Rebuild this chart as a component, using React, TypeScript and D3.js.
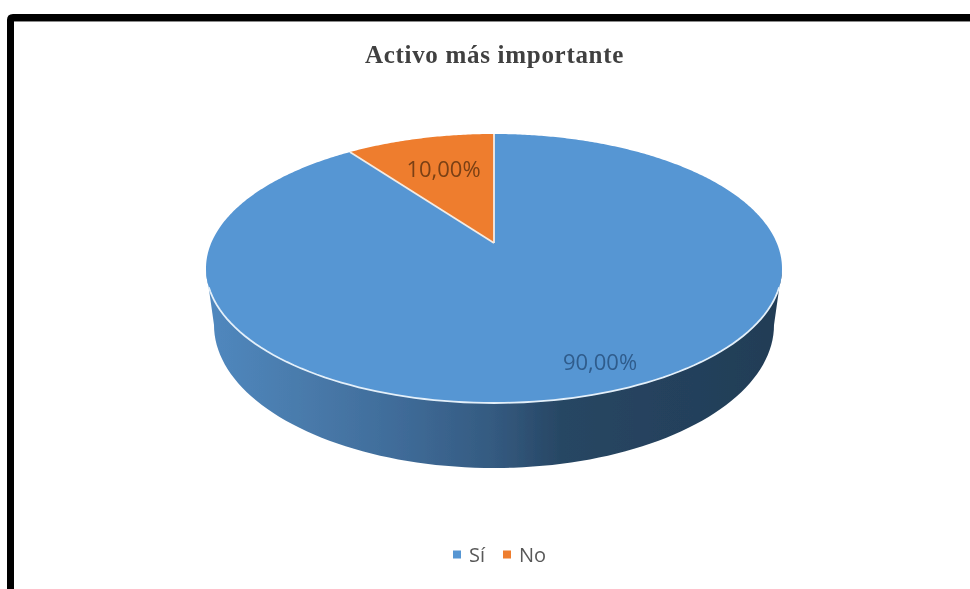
import React from 'react';
import * as d3 from 'd3';

const categories = ['Sí', 'No'];
const values = [90, 10];
const valueLabels = ['90,00%', '10,00%'];
const colors = ['#5796d3', '#ee7d2f'];
const labelColors = ['#2f5c8c', '#7a4013'];
const title = 'Activo más importante';

const width = 970;
const height = 589;

// top of the pie is tilted, so the slice point sits above the ellipse middle
const cx = 494;
const rimRy = 134.5;
const rimCy = 268.5;
const apexY = 243;
const tilt = (2 * apexY - (rimCy - rimRy) - (rimCy + rimRy)) / (rimCy + rimRy - (rimCy - rimRy));
const scaleY = apexY - (rimCy - rimRy) + (rimCy - rimRy) * tilt;
const scaleX = 288 * Math.sqrt(1 - tilt * tilt);

const project = (angle: number, r = 1): [number, number] => {
  const u = r * Math.sin(angle);
  const v = -r * Math.cos(angle);
  const d = 1 + tilt * v;
  return [cx + (scaleX * u) / d, (scaleY * v + apexY) / d];
};

const line = d3.line();

const slicePath = (start: number, end: number) => {
  const steps = Math.ceil((end - start) / 0.01);
  const rim = d3.range(steps + 1).map(i => project(start + ((end - start) * i) / steps));
  return `${line([project(0, 0), ...rim])}Z`;
};

// lower half of a plain ellipse, left to right
const lowerHalf = (ex: number, ey: number, rx: number, ry: number, from = 0) =>
  d3.range(from, 181 - from, 2).map((deg): [number, number] => {
    const a = Math.PI - (deg * Math.PI) / 180;
    return [ex + rx * Math.cos(a), ey + ry * Math.sin(a)];
  });

const App: React.FC = () => {
  const arcs = d3.pie<number>().sort(null)(values);
  const rimFront = lowerHalf(cx, rimCy, 288, rimRy);
  const rimHighlight = lowerHalf(cx, rimCy, 288, rimRy, 8);
  const baseFront = lowerHalf(cx, 325, 280, 143);
  const wall = `${line([...rimFront, ...[...baseFront].reverse()])}Z`;

  return (
    <svg
      width={width}
      height={height}
      style={{ position: 'absolute', left: 0, top: 0, background: '#fff' }}
    >
      <defs>
        <linearGradient id="wallFill" gradientUnits="userSpaceOnUse" x1={206} x2={782} y1={0} y2={0}>
          <stop offset="0" stopColor="#5088bf" />
          <stop offset="0.15" stopColor="#4a7cad" />
          <stop offset="0.34" stopColor="#3f6b98" />
          <stop offset="0.5" stopColor="#345a80" />
          <stop offset="0.62" stopColor="#274663" />
          <stop offset="1" stopColor="#223d56" />
        </linearGradient>
        <filter id="soft" x="-5%" y="-5%" width="110%" height="110%">
          <feGaussianBlur stdDeviation="0.6" />
        </filter>
      </defs>

      <g filter="url(#soft)">
        {/* picture frame */}
        <path d="M970,17.5H13Q10.5,17.5 10.5,20V589" fill="none" stroke="#000" strokeWidth={7} />
        <line x1={14} x2={970} y1={21.5} y2={21.5} stroke="#8a8a8a" strokeWidth={1} />

        <path d={wall} fill="url(#wallFill)" />

        {arcs.map((d, i) => (
          <path key={categories[i]} d={slicePath(d.startAngle, d.endAngle)} fill={colors[i]} />
        ))}
        <path d={line(rimHighlight) ?? ''} fill="none" stroke="#e4f0fa" strokeWidth={1.8} />
        {arcs.map(d => (
          <path
            key={d.startAngle}
            d={line([project(0, 0), project(d.startAngle)]) ?? ''}
            fill="none"
            stroke="#f4ece4"
            strokeWidth={1.8}
          />
        ))}

        <text
          x={494.5}
          y={63}
          textAnchor="middle"
          fontFamily="'Liberation Serif', serif"
          fontWeight="bold"
          fontSize={25}
          fill="#404040"
          letterSpacing={0.7}
        >
          {title}
        </text>

        <text x={600} y={370} textAnchor="middle" fontFamily="'Open Sans', sans-serif" fontSize={22} fill={labelColors[0]}>
          {valueLabels[0]}
        </text>
        <text x={443.5} y={177} textAnchor="middle" fontFamily="'Open Sans', sans-serif" fontSize={22} fill={labelColors[1]}>
          {valueLabels[1]}
        </text>

        {categories.map((c, i) => (
          <g key={c} transform={`translate(${i === 0 ? 453 : 503},550.5)`}>
            <rect width={8} height={8} fill={colors[i]} />
            <text x={16} y={11} fontFamily="'Open Sans', sans-serif" fontSize={20} fill="#595959">
              {c}
            </text>
          </g>
        ))}
      </g>
    </svg>
  );
};

export default App;
